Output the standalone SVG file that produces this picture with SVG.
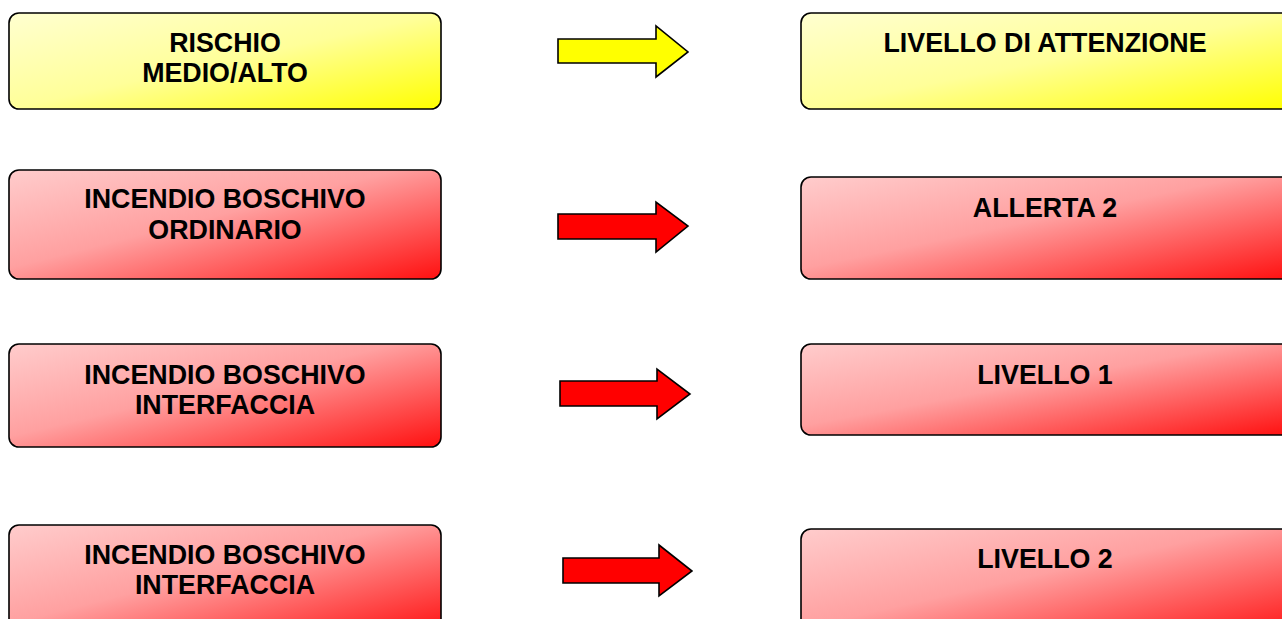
<svg xmlns="http://www.w3.org/2000/svg" width="1282" height="619" viewBox="0 0 1282 619">
<defs>
<linearGradient id="gy" x1="0" y1="0" x2="1" y2="1">
<stop offset="0" stop-color="#ffffd0"/>
<stop offset="0.5" stop-color="#ffff99"/>
<stop offset="1" stop-color="#ffff00"/>
</linearGradient>
<linearGradient id="gr" x1="0" y1="0" x2="1" y2="1">
<stop offset="0" stop-color="#ffcccc"/>
<stop offset="0.45" stop-color="#ffa0a0"/>
<stop offset="1" stop-color="#ff1010"/>
</linearGradient>
</defs>
<style>
.box{stroke:#000;stroke-width:1.6}
.y{fill:url(#gy)}
.r{fill:url(#gr)}
.t{font-family:"Liberation Sans",Arial,sans-serif;font-weight:bold;font-size:26.8px;fill:#000;text-anchor:middle}
.ar{stroke:#000;stroke-width:1.6;stroke-linejoin:miter}
</style>
<rect width="1282" height="619" fill="#fff"/>
<g id="n1"><rect class="box y" x="9" y="13" width="432" height="96" rx="10"/>
<text class="t" x="225" y="52">RISCHIO</text><text class="t" x="225" y="82">MEDIO/ALTO</text></g>
<g id="n2"><rect class="box y" x="801" y="13" width="490" height="96" rx="10"/>
<text class="t" x="1045" y="52">LIVELLO DI ATTENZIONE</text></g>
<g id="n3"><rect class="box r" x="9" y="170" width="432" height="109" rx="10"/>
<text class="t" x="225" y="208">INCENDIO BOSCHIVO</text><text class="t" x="225" y="239">ORDINARIO</text></g>
<g id="n4"><rect class="box r" x="801" y="177" width="490" height="102" rx="10"/>
<text class="t" x="1045" y="217">ALLERTA 2</text></g>
<g id="n5"><rect class="box r" x="9" y="344" width="432" height="103" rx="10"/>
<text class="t" x="225" y="384">INCENDIO BOSCHIVO</text><text class="t" x="225" y="414">INTERFACCIA</text></g>
<g id="n6"><rect class="box r" x="801" y="344" width="490" height="91" rx="10"/>
<text class="t" x="1045" y="384">LIVELLO 1</text></g>
<g id="n7"><rect class="box r" x="9" y="525" width="432" height="110" rx="10"/>
<text class="t" x="225" y="564">INCENDIO BOSCHIVO</text><text class="t" x="225" y="594">INTERFACCIA</text></g>
<g id="n8"><rect class="box r" x="801" y="529" width="490" height="110" rx="10"/>
<text class="t" x="1045" y="568">LIVELLO 2</text></g>
<g id="connectors">
<polygon class="ar" fill="#ffff00" points="558,39 656,39 656,26 688,52 656,77 656,63 558,63"/>
<polygon class="ar" fill="#ff0000" points="558,214 656,214 656,202 688,226 656,252 656,239 558,239"/>
<polygon class="ar" fill="#ff0000" points="560,381 657,381 657,369 690,394 657,419 657,406 560,406"/>
<polygon class="ar" fill="#ff0000" points="563,558 659,558 659,545 692,571 659,596 659,583 563,583"/>
</g>
</svg>
